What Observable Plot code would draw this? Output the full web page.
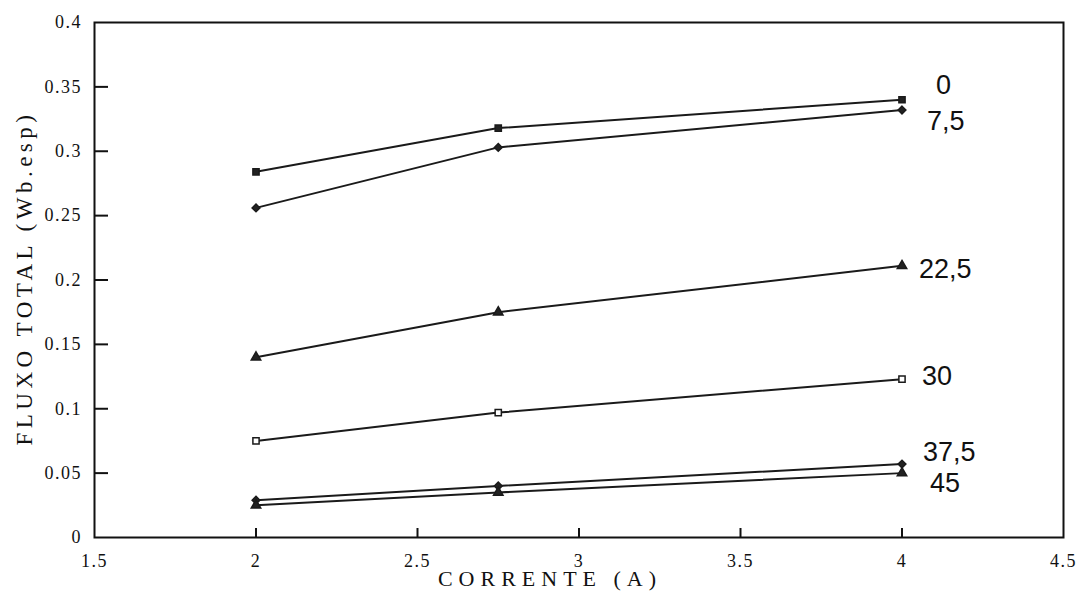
<!DOCTYPE html>
<html><head><meta charset="utf-8">
<script src="https://cdn.jsdelivr.net/npm/d3@7"></script>
<script src="https://cdn.jsdelivr.net/npm/@observablehq/plot@0.6"></script>
<style>body{margin:0;background:#fff}</style>
</head><body><div id="chart"></div>
<script>
// ---- data ----
const correntes = [2, 2.75, 4];
const angulos = ["0", "7,5", "22,5", "30", "37,5", "45"];
const fluxo_0    = [0.284, 0.318, 0.340];
const fluxo_7_5  = [0.256, 0.303, 0.332];
const fluxo_22_5 = [0.140, 0.175, 0.211];
const fluxo_30   = [0.075, 0.097, 0.123];
const fluxo_37_5 = [0.029, 0.040, 0.057];
const fluxo_45   = [0.025, 0.035, 0.050];
const xTicks = [1.5, 2, 2.5, 3, 3.5, 4, 4.5];
const xTickLabels = ["1.5", "2", "2.5", "3", "3.5", "4", "4.5"];
const yTicks = [0, 0.05, 0.1, 0.15, 0.2, 0.25, 0.3, 0.35, 0.4];
const yTickLabels = ["0", "0.05", "0.1", "0.15", "0.2", "0.25", "0.3", "0.35", "0.4"];
const xTitle = "CORRENTE (A)";
const yTitle = "FLUXO TOTAL (Wb.esp)";

// ---- styling ----
const W = 1076, H = 600, ML = 94, MR = 13, MT = 22, MB = 63;
const seriesValues = [fluxo_0, fluxo_7_5, fluxo_22_5, fluxo_30, fluxo_37_5, fluxo_45];
const symbols = ["square", "diamond2", "triangle", "square", "diamond2", "triangle"];
const fills = ["#222", "#222", "#222", "#fff", "#222", "#222"];
const labelDx = [34, 25, 17, 20, 21, 28];
const labelDy = [-14, 11, 4, -3, -12, 10];

const rows = [];
angulos.forEach((a, s) => correntes.forEach((c, i) => rows.push({serie: a, x: c, y: seriesValues[s][i]})));

const serif = "Liberation Serif, Times New Roman, serif";
const sans = "Liberation Sans, Arial, sans-serif";

const innerX = xTicks.slice(1, -1);
const innerY = yTicks.slice(1, -1);
const frameW = W - ML - MR, frameH = H - MT - MB;

const marks = [
  Plot.frame({stroke: "#111", strokeWidth: 2}),
  Plot.axisY(yTicks, {tickSize: 0, tickPadding: 12.5, tickFormat: d => yTickLabels[yTicks.indexOf(d)], fontSize: 18, fontFamily: serif, fill: "#111", label: null}),
  Plot.axisX(xTicks, {tickSize: 0, tickPadding: 17, tickFormat: d => xTickLabels[xTicks.indexOf(d)], fontSize: 18, fontFamily: serif, fill: "#111", label: null}),
  // inward tick marks
  Plot.tickY(innerY, {y: d => d, insetRight: frameW - 14, stroke: "#111", strokeWidth: 2}),
  Plot.tickX(innerX, {x: d => d, insetTop: frameH - 9, stroke: "#111", strokeWidth: 2}),
  Plot.line(rows, {x: "x", y: "y", z: "serie", stroke: "#1a1a1a", strokeWidth: 2})
];
angulos.forEach((a, s) => {
  const d = rows.filter(r => r.serie === a);
  marks.push(Plot.dot(d, {x: "x", y: "y", symbol: symbols[s], r: 3.5, fill: fills[s], stroke: "#1a1a1a", strokeWidth: 1.5}));
  marks.push(Plot.text(d.slice(-1), {x: "x", y: "y", text: () => a, dx: labelDx[s], dy: labelDy[s], textAnchor: "start", fontSize: 27, fontFamily: sans, fill: "#111"}));
});
marks.push(Plot.text([yTitle], {frameAnchor: "left", textAnchor: "middle", lineAnchor: "middle", dx: -70, dy: -2, rotate: -90, text: d => d, fontSize: 23, fontFamily: serif, fill: "#111"}));
marks.push(Plot.text([xTitle], {frameAnchor: "bottom", textAnchor: "middle", lineAnchor: "middle", dx: -29, dy: 41, text: d => d, fontSize: 22, fontFamily: serif, fill: "#111"}));

const chart = Plot.plot({
  width: W, height: H,
  marginLeft: ML, marginRight: MR, marginTop: MT, marginBottom: MB,
  x: {domain: [1.5, 4.5]},
  y: {domain: [0, 0.4]},
  style: {background: "#fff", color: "#111"},
  marks
});
chart.querySelectorAll("text").forEach(t => {
  if (t.textContent === yTitle) t.setAttribute("letter-spacing", "4.5");
  if (t.textContent === xTitle) t.setAttribute("letter-spacing", "6");
  if (yTickLabels.includes(t.textContent) || xTickLabels.includes(t.textContent)) t.setAttribute("letter-spacing", "1.5");
});
document.getElementById("chart").appendChild(chart);
</script>
</body></html>
